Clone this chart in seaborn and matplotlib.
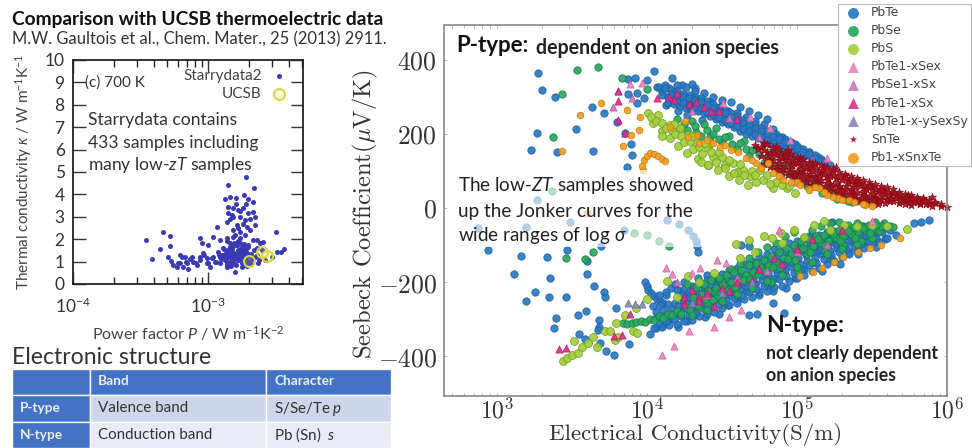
import matplotlib
matplotlib.use('Agg')
import numpy as np
import pandas as pd
import matplotlib.pyplot as plt
from matplotlib.patches import Rectangle
import seaborn as sns

# --- left panel, log10(power factor) and thermal conductivity
starry_p = [-3.457,-3.412,-3.356,-3.331,-3.281,-3.279,-3.294,-3.277,-3.257,-3.232,-3.207,-3.207,-3.17,-3.188,-3.158,-3.146,-3.121,-3.109,-3.084,-3.059,
            -3.059,-3.047,-3.035,-3.01,-2.998,-3.01,-2.985,-2.96,-2.936,-2.96,-2.948,-2.911,-2.923,-2.899,-2.886,-2.874,-2.862,-2.837,-2.825,-2.8,
            -2.793,-2.812,-2.775,-2.763,-2.751,-2.726,-2.701,-2.664,-2.64,-2.652,-2.615,-2.59,-2.496,-2.491,-2.437,-2.459,-2.528,-2.578,
            -2.721,-2.854,-2.659,-2.736,-2.701,-2.669,-2.874,-2.837,-2.793,-2.854,-2.812,-2.775,-2.738,-2.701,-2.664,-2.652,-2.852,-2.812,-2.763,-2.726,
            -2.862,-2.788,-2.652,-2.714,-2.812,-2.763,-2.689,-2.726,-2.812,-2.64,-2.862,-2.911,-2.837,-2.788,
            -2.88,-2.87,-2.85,-2.84,-2.83,-2.82,-2.81,-2.80,-2.79,-2.78,-2.77,-2.76,-2.75,-2.74,-2.73,-2.72,-2.86,-2.84,-2.82,-2.80,-2.78,-2.76,-2.74,-2.72,-2.70,
            -2.68,-2.66,-2.64,-2.62,-2.60,-2.90,-2.92,-2.94,-2.97,-3.0,-3.03,-3.06,-3.09,-3.13,-3.16,-3.19,-3.22,-2.86,-2.83,-2.79,-2.75,-2.71,-2.68,-2.63,
            -2.89,-2.87,-2.85,-2.83,-2.81,-2.79,-2.77,-2.75,-2.73,-2.71,-2.69,-2.84,-2.80,-2.76,-2.72,-2.88,-2.82,-2.78,-2.74,-2.91,-2.86,-2.80,-2.74,-2.70,-2.67,
            -2.82,-2.76,-2.78,-2.74,-2.72,-2.80,-2.70,-2.77,-2.75,-2.68,-2.84,-2.73,-2.79,-2.81,-2.69,-2.76]
starry_k = [1.96,1.12,1.58,2.31,2.14,1.70,1.19,1.04,0.85,0.77,0.92,1.29,1.22,0.77,0.92,0.67,1.22,1.0,0.85,1.07,
            2.04,1.85,1.37,1.15,1.74,0.92,0.77,2.11,2.56,1.22,1.0,0.92,1.44,1.29,1.59,1.07,0.85,1.37,1.67,0.55,
            1.22,1.0,1.52,1.82,0.92,1.29,1.67,1.96,1.59,1.22,1.82,1.89,2.34,1.44,1.55,1.44,1.22,1.07,
            4.79,4.4,4.27,3.97,3.79,3.65,3.79,3.9,3.82,3.45,3.38,3.3,3.38,3.15,3.23,3.0,3.15,3.0,3.0,2.86,
            2.78,2.63,2.63,2.56,2.41,2.34,2.41,2.19,2.11,1.96,2.04,1.96,1.82,1.74,
            1.3,1.1,1.5,1.0,1.25,1.6,1.4,1.15,1.75,1.05,1.35,1.55,1.2,1.45,0.95,1.7,1.9,1.2,1.55,1.3,1.9,1.1,1.45,1.15,1.3,
            1.05,1.5,1.3,1.05,1.5,1.1,1.3,1.0,1.15,0.95,1.3,1.2,0.95,1.1,1.0,1.2,0.95,0.75,0.8,0.85,0.75,0.8,0.9,0.95,
            1.15,1.4,1.25,1.45,1.15,1.35,1.25,1.65,1.1,1.4,1.25,1.65,1.35,1.2,1.55,1.55,1.05,1.05,1.05,1.2,0.95,0.9,0.85,1.0,1.15,
            3.1,3.25,2.5,2.7,3.55,2.2,1.75,1.45,1.6,1.35,2.9,1.8,3.55,1.85,2.9,2.05]
ucsb_p = [-2.694, -2.602, -2.565]
ucsb_k = [1.03, 1.41, 1.26]

# --- right panel, log10(conductivity) and Seebeck
pbte_x = [3.276,3.302,3.389,3.267,3.224,3.402,3.64,3.529,3.636,3.713,4.044,3.876,3.918,4.002,4.169,4.231,4.302,4.32,3.876,3.931,3.931,3.982,3.802,3.853,3.896,3.898,3.867,4.067,4.124,4.264,
          4.08,4.10,4.12,4.14,4.15,4.17,4.18,4.20,4.22,4.24,4.26,4.28,4.30,4.32,4.34,4.36,4.38,4.40,4.42,4.44,
          4.46,4.48,4.50,4.52,4.54,4.56,4.58,4.60,4.62,4.64,4.66,4.68,4.70,4.72,4.74,4.76,4.78,4.80,4.82,4.84,
          4.86,4.88,4.90,4.93,4.96,4.99,5.02,5.05,5.08,5.11,5.14,5.18,5.22,4.21,4.29,4.37,4.45,4.53,4.61,4.69,
          3.267,3.487,4.131,4.211,2.876,3.193,2.938,3.464,3.691,3.847,4.271,4.309,4.327,4.336,
          4.342,3.16,3.336,3.116,3.351,3.6,3.602,3.649,3.716,3.72,3.251,3.191,3.344,3.458,3.793,3.393,3.38,3.538,3.591,3.678,3.678,3.676,3.544,3.587,3.687,3.724,3.78,3.882,
          5.88,5.825,5.78,4.991,4.84,4.914,4.736,4.68,4.625,4.68,5.236,
          3.99,4.00,4.01,4.03,4.05,4.07,4.09,4.11,4.13,4.02,4.06,4.10,
          4.16,4.19,4.22,4.25,4.28,4.31,4.34,4.37,4.40,4.15,4.18,4.21,
          4.24,4.27,4.30,4.33,4.36,4.39,4.42,4.45,4.48,4.51,4.54,4.57,
          4.60,4.63,4.66,4.69,4.72,4.75,4.78,4.81,4.84,4.87,4.90,4.93,
          4.96,4.99,5.02,5.05,5.08,5.11,5.14,5.17,5.20,5.23,5.26,5.29,
          5.32,5.35,5.38,5.41,5.44,5.47,5.50,5.53,5.56,5.59,5.62,5.66,
          4.26,4.32,4.38,4.44,4.50,4.56,4.62,4.68,4.74,4.80,4.86,4.92]
pbte_y = [364,318,299,203,156,151,154,213,272,255,368,348,350,345,350,332,333,323,308,310,282,296,231,201,173,143,110,327,277,251,
          325,312,330,300,322,290,312,332,285,305,325,270,300,315,265,292,310,255,285,300,
          245,272,292,235,262,285,228,255,272,215,245,262,205,235,250,195,225,240,185,212,
          198,172,190,180,150,172,160,140,152,120,138,124,116,262,280,238,252,240,235,215,
          21,-37,-32,-43,-53,-51,-113,-113,-102,-59,-59,-75,-89,-102,
          -120,-129,-132,-177,-190,-177,-143,-210,-228,-241,-228,-251,-239,-240,-269,-298,-325,-288,-279,-303,-320,-329,-341,-354,-365,-385,-397,-366,
          -33,-39,-41,-239,-257,-282,-286,-290,-100,-102,-37,
          -200,-210,-222,-230,-238,-245,-252,-255,-235,-340,-325,-318,
          -215,-205,-225,-200,-240,-215,-190,-205,-180,-300,-285,-320,
          -265,-305,-255,-285,-245,-295,-265,-230,-285,-215,-262,-195,
          -245,-180,-225,-155,-205,-235,-140,-185,-225,-120,-170,-215,
          -130,-190,-100,-165,-75,-145,-115,-170,-70,-135,-95,-150,
          -62,-120,-80,-125,-50,-100,-70,-105,-55,-85,-48,-72,
          -235,-265,-225,-200,-250,-235,-205,-190,-170,-210,-190,-150]
# denser runs through the two PbTe bands
pbte_band_x = [4.05,4.10,4.15,4.20,4.25,4.30,4.35,4.40,4.45,4.50,4.55,4.60,4.65,4.70,4.75,4.80,4.85,4.90,4.95,5.00,5.05,5.10,5.15,5.20,5.25,5.30,5.35,5.40,5.45,5.50,5.55,5.60,
               4.07,4.12,4.17,4.22,4.27,4.32,4.37,4.42,4.47,4.52,4.57,4.62,4.67,4.72,4.77,4.82,4.87,4.92,4.97,5.02,5.07,5.12,5.17,5.22,5.27,5.32,5.37,5.42,5.47,5.52,5.57,5.62,
               4.04,4.09,4.14,4.19,4.24,4.29,4.34,4.39,4.44,4.49,4.54,4.59,4.64,4.69,4.74,4.79,4.84,4.89,4.94,4.99,5.04,5.09,5.14,5.19,5.24,5.29,5.34,5.39,5.44,5.49,5.54,5.59,
               4.20,4.25,4.30,4.35,4.40,4.45,4.50,4.55,4.60,4.65,4.70,4.75,4.80,4.85,4.90,4.95,5.00,5.05,5.10,5.15,5.20,5.25,5.30,5.35,5.40,5.50,
               4.08,4.13,4.18,4.23,4.28,4.33,4.38,4.43,4.48,4.53,4.58,4.63,4.68,4.73,4.78,4.83,4.88,4.93,4.98,5.03,5.08,5.13,5.18,5.23,5.28,5.33,5.38,5.43,5.48,5.53,
               4.06,4.11,4.16,4.21,4.26,4.31,4.36,4.41,4.46,4.51,4.56,4.61,4.66,4.71,4.76,4.81,4.86,4.91,4.96,5.01,5.06,5.11,5.16,5.21,5.26,5.31,5.36,5.41,5.46,5.51,
               4.08,4.13,4.23,4.28,4.33,4.38,4.43,4.48,4.53,4.58,4.63,4.68,4.73,4.78,4.83,4.88,4.93,4.98,5.03,5.08,5.13,5.18,5.23,5.28,5.33,5.38,5.43,5.48,5.53,5.58,
               4.10,4.14,4.18,4.22,4.26,4.30,4.34,4.38,4.42,4.46,4.50,4.54,4.58,4.62,4.66,4.70,4.74,4.78,4.82,4.86,4.90,4.94,4.98,5.02,5.06,5.10,5.14,
               4.12,4.16,4.20,4.24,4.28,4.32,4.36,4.40,4.44,4.48,4.52,4.56,4.60,4.64,4.68,4.72,4.76,4.80,4.84,4.88,4.92,4.96,5.00,5.04,5.08,5.12,5.16,
               4.14,4.18,4.22,4.26,4.30,4.34,4.38,4.42,4.46,4.50,4.54,4.58,4.62,4.66,4.70,4.74,4.78,4.82,4.86,4.90,4.94,4.98,5.02,
               4.16,4.20,4.24,4.28,4.32,4.36,4.40,4.44,4.48,4.52,4.56,4.60,4.64,4.68,4.72,4.76,4.80,4.84,4.88,4.92,4.96,5.00,5.04,5.08,5.12,5.16,
               4.20,4.24,4.28,4.32,4.36,4.40,4.44,4.48,4.52,4.56,4.60,4.64,4.68,4.72,4.76,4.80,4.84,4.88,4.92,4.96]
pbte_band_y = [-325,-322,-316,-312,-305,-302,-292,-285,-280,-270,-262,-255,-245,-240,-228,-225,-212,-210,-198,-188,-180,-170,-162,-150,-142,-132,-125,-115,-108,-98,-92,-82,
               -295,-290,-285,-278,-272,-265,-258,-252,-245,-236,-228,-222,-212,-205,-195,-188,-175,-168,-158,-150,-142,-132,-125,-115,-108,-100,-92,-86,-78,-72,-66,-60,
               -265,-262,-258,-255,-248,-240,-232,-228,-220,-210,-205,-198,-188,-180,-170,-162,-150,-142,-130,-122,-115,-108,-100,-92,-88,-80,-75,-70,-66,-60,-55,-52,
               -222,-218,-210,-200,-195,-185,-178,-168,-162,-150,-142,-132,-125,-112,-102,-95,-90,-82,-76,-72,-66,-62,-58,-54,-52,-48,
               -310,-305,-300,-292,-288,-280,-272,-268,-258,-250,-242,-234,-226,-218,-210,-202,-192,-184,-175,-165,-155,-148,-138,-128,-120,-112,-104,-96,-88,-82,
               -280,-275,-272,-265,-260,-252,-245,-238,-232,-224,-216,-208,-200,-192,-182,-175,-165,-155,-145,-135,-128,-120,-112,-104,-98,-90,-84,-78,-72,-66,
               -235,-228,-235,-228,-220,-212,-205,-195,-190,-182,-175,-165,-155,-148,-138,-128,-118,-108,-100,-92,-85,-80,-72,-68,-62,-58,-55,-52,-48,-46,
               305,300,298,292,288,285,280,272,265,258,250,242,235,225,218,210,205,195,188,182,172,165,158,150,142,135,128,
               322,318,315,308,305,300,295,288,280,270,265,255,248,238,230,225,215,208,200,192,186,178,168,160,150,142,132,
               282,280,275,270,268,262,255,248,240,232,225,218,208,200,195,188,178,172,165,155,148,140,132,
               308,303,298,295,290,286,278,270,262,255,246,238,230,222,215,208,200,192,185,178,170,162,152,145,135,126,
               285,282,278,272,268,258,252,245,238,230,222,212,208,200,192,182,175,168,158,152]

pbse_x = [3.536,3.671,3.431,3.376,3.831,3.998,3.367,3.916,4.002,4.08,4.149,3.46,3.587,3.638,
          4.20,4.25,4.30,4.33,4.38,4.42,4.46,4.50,4.55,4.60,4.65,4.68,4.73,4.78,4.82,4.88,4.92,4.98,5.02,5.07,5.12,5.17,5.22,5.27,5.32,5.37,5.42,5.47,5.50,5.34,
          3.84,3.87,3.90,3.93,3.96,3.99,4.02,4.05,4.08,4.11,4.14,4.17,
          4.20,4.23,4.26,4.29,4.32,4.35,4.38,4.41,4.44,4.47,4.50,4.53,
          4.56,4.59,4.62,4.65,4.68,4.71,4.74,4.77,4.80,4.83,4.86,4.89,
          4.92,4.95,4.98,5.01,5.04,5.07,5.10,5.13,5.16,5.19,5.22,5.25,
          5.28,5.31,5.34,5.37,5.40,5.43,5.46,5.49,5.52,5.55,5.58,5.64]
pbse_y = [372,379,306,190,350,320,46,-68,-73,-88,-102,-136,-137,-120,
          240,225,235,205,225,190,215,178,195,160,180,140,160,120,135,100,115,80,95,60,75,40,50,25,32,15,22,14,16,18,
          -310,-312,-310,-308,-305,-308,-300,-302,-292,-296,-285,-290,
          -278,-285,-268,-275,-250,-268,-232,-255,-225,-240,-200,-228,
          -165,-215,-150,-195,-135,-180,-118,-165,-105,-200,-95,-150,
          -75,-130,-65,-170,-85,-125,-60,-95,-50,-115,-40,-80,
          -38,-100,-45,-70,-40,-90,-52,-75,-38,-62,-42,-52]
pbse_band_x = [4.31,4.36,4.41,4.46,4.51,4.56,4.61,4.66,4.71,4.76,4.81,4.86,4.91,4.96,5.01,5.06,5.11,5.16,5.21,5.26,5.31,5.36,5.41,5.46,5.51,5.56,
               4.27,4.33,4.38,4.43,4.48,4.53,4.58,4.63,4.68,4.73,4.78,4.83,4.88,4.93,4.98,5.03,5.08,5.13,5.18,5.23,5.28,5.33,5.38,5.43,5.48,5.53,
               4.3,4.4,4.5,4.6,4.7,4.8,4.9,5.0,5.1,5.2,5.3,5.4,5.5,
               4.34,4.44,4.54,4.64,4.74,4.84,4.94,5.04,5.14,5.24,5.34,5.44,4.39,4.49,4.59,4.69,4.79,4.89,4.99,5.09,5.19,5.29,5.39,5.49,
               4.22,4.27,4.32,4.36,4.40,4.44,4.48,4.52,4.57,4.62,4.66,4.70,4.75,4.80,4.85,4.90,4.95,5.00,5.05,5.10,5.15,5.20,5.25,5.30,5.35,5.40,5.44]
pbse_band_y = [-240,-232,-225,-215,-208,-200,-192,-182,-172,-162,-155,-145,-135,-125,-118,-110,-102,-95,-88,-82,-76,-70,-64,-60,-55,-50,
               -205,-212,-205,-195,-190,-180,-172,-168,-155,-148,-140,-130,-120,-108,-100,-90,-84,-76,-72,-64,-60,-55,-52,-48,-46,-45,
               -290,-275,-250,-232,-215,-198,-180,-160,-145,-125,-112,-98,-80,
               -262,-248,-222,-195,-178,-158,-138,-108,-85,-70,-62,-55,-245,-228,-212,-192,-170,-160,-140,-118,-100,-90,-80,-68,
               215,210,220,195,210,200,185,190,172,175,158,155,145,135,112,108,95,90,68,65,58,45,38,28,25,18,15]

pbs_x = [4.009,4.076,4.042,4.098,4.153,4.153,4.22,4.209,4.276,4.269,4.331,4.342,4.409,4.409,4.42,4.409,4.5,4.475,4.575,4.549,4.642,4.613,4.686,4.675,4.775,4.842,4.931,4.986,4.753,4.6,4.52,4.442,
         3.438,3.464,3.498,3.542,3.564,3.516,3.609,3.642,3.664,3.72,3.753,3.787,3.809,3.791,3.853,3.909,3.931,4.002,4.131,4.276,3.924,
         4.591,4.68,4.78,4.836,4.891,4.98,5.113,5.18,5.313,5.5,5.736,4.2,4.35,4.45,4.62,4.72,4.9,5.05,5.22,5.4,5.6,
         4.03,4.06,4.10,4.13,4.17,4.19,4.23,4.25,4.29,4.31,4.35,4.37,4.39,4.43,4.46,4.48,4.52,4.55,4.58,4.62,4.65,4.70,4.73,4.80,4.86,4.90,4.95,4.72,4.82,4.30,4.18,4.1,4.36]
pbs_y = [255,251,228,206,224,188,215,167,197,149,174,131,161,116,174,116,138,102,121,86,103,74,85,62,76,53,53,40,103,98,116,138,
         -414,-405,-396,-392,-374,-358,-365,-347,-374,-331,-333,-356,-347,-311,-288,-333,-338,-245,-197,-183,-270,
         -97,-86,-75,-82,-68,-59,-46,-35,-46,-46,-57,-240,-200,-175,-135,-120,-95,-78,-60,-50,-48,
         245,235,230,215,210,198,195,178,180,160,165,145,175,152,125,150,108,130,95,118,88,100,70,88,70,62,58,88,65,195,225,195,125]

tesex_x = [3.804,3.887,3.964,4.509,4.686,4.82,4.953,5.198,4.127,4.164,4.353,4.302,4.282,4.18,4.1,4.447,4.547,4.625,4.469,4.525,4.88,5.5]
tesex_y = [314,334,336,282,246,215,183,134,-161,-179,-161,-176,-331,-372,-396,-320,-293,-275,-140,-149,-59,-35]
ses_x = [3.776,3.898,4.3,4.55,4.75,4.95,5.1,4.2,4.4,4.6,4.8,5.0,5.2]
ses_y = [271,296,262,242,190,160,130,-200,-235,-190,-170,-120,-100]
tes_x = [3.804,3.804,3.809,3.853,4.064,4.18,4.28,4.38,4.48,4.6,3.416,3.46,3.887,3.831,3.78,4.25,4.35,4.45,4.55,4.7,4.9,
         4.4,4.5,4.35,4.6,4.75,4.85,5.0,5.1,5.3,4.25,4.3,4.15,4.2,4.33,4.43]
tes_y = [314,287,237,201,297,292,280,272,260,240,-380,-378,-286,-342,-345,-260,-240,-265,-225,-195,-150,
         -230,-215,-250,-200,-165,-135,-110,-85,-60,-240,-220,300,310,285,262]
mixed_x = [3.876,3.92,3.964,4.9,5.0,5.1,5.2,5.3,5.4,4.3,4.5,4.7]
mixed_y = [-257,-258,-260,90,70,60,40,35,20,-255,-230,-200]

snte_x = [4.72,4.76,4.80,4.84,4.88,4.92,4.96,5.00,5.04,5.08,5.12,5.16,
          4.78,4.82,4.86,4.90,4.94,4.98,5.02,5.06,5.10,5.14,5.18,5.22,
          5.20,5.24,5.28,5.32,5.36,5.40,5.44,5.48,5.52,5.56,5.60,5.64,
          5.26,5.30,5.34,5.38,5.42,5.46,5.50,5.54,5.58,5.62,5.66,5.70,
          5.68,5.72,5.76,5.80,5.84,5.88,5.92,5.96,6.00,5.74,5.82,5.90]
snte_y = [170,165,150,155,130,140,118,122,100,105,85,98,
          175,130,165,105,155,90,135,75,120,70,110,65,
          82,100,60,88,50,75,40,62,30,52,25,40,
          110,48,72,35,65,22,55,20,45,18,35,15,
          30,25,22,15,28,10,12,6,2,35,10,30]
snte_band_x = [4.80,4.84,4.88,4.92,4.96,5.00,5.04,5.08,5.12,5.16,5.20,5.24,5.28,5.32,5.36,5.40,5.44,5.48,5.52,5.56,5.60,5.64,5.68,5.72,5.76,5.80,5.84,5.88,5.92,5.96,
               4.74,4.78,4.82,4.86,4.90,4.94,4.98,5.02,5.06,5.10,5.14,5.18,5.22,5.26,5.30,5.34,5.38,5.42,5.46,5.50,5.54,5.58,5.62,5.66,5.70,5.74,5.78,5.82,5.86,5.90,
               4.76,4.80,4.84,4.88,4.92,4.96,5.00,5.04,5.08,5.12,5.16,5.20,5.24,5.28,5.32,5.36,5.40,5.44,5.48,5.52,5.56,5.60,5.64,5.68,5.72,5.76,
               4.78,4.82,4.86,4.90,4.94,4.98,5.02,5.06,5.10,5.14,5.18,5.22,5.26,5.30,5.34,5.38,5.42,5.46,5.50,5.54,
               4.92,4.97,5.03,5.09,5.15,5.21,5.27,5.33,5.39,5.45,5.51,5.57,5.63,5.69,5.75,5.81,
               4.85,4.89,4.93,4.97,5.01,5.05,5.09,5.13,5.17,5.21,5.25,5.29,5.33,5.37,5.41,5.45,5.49,5.53,5.57,5.61,5.65,5.69,5.73,5.77,5.81,5.85,
               4.83,4.87,4.91,4.95,4.99,5.03,5.07,5.11,5.15,5.19,5.23,5.27,5.31,5.35,5.39,5.43,5.47,5.51,5.55,5.59]
snte_band_y = [172,165,158,152,145,138,132,125,120,115,110,104,98,92,86,80,75,70,64,60,55,50,44,38,34,30,24,20,16,10,
               158,155,148,142,135,128,122,115,110,102,98,92,86,80,74,68,64,58,52,48,42,38,34,28,24,20,16,14,10,6,
               140,135,128,120,112,105,100,92,86,80,75,68,62,56,50,46,42,36,32,26,24,20,18,12,10,8,
               118,110,105,96,90,82,78,70,62,58,52,46,42,36,30,26,22,16,14,10,
               130,115,105,92,85,78,70,60,55,46,38,32,26,20,14,18,
               148,145,140,132,125,120,115,108,102,96,90,85,80,74,68,62,58,52,48,44,40,34,30,26,22,18,
               120,112,104,98,92,85,80,72,66,60,55,48,44,38,34,28,24,20,16,12]

pbsnte_x = [3.436,3.691,3.556,3.869,3.953,3.944,3.838,3.896,3.971,3.969,3.98,3.998,4.02,4.049,4.076,4.098,4.122,3.598,
            4.40,4.49,4.61,4.73,4.81,4.91,5.15,5.275,5.453,4.253,4.276,4.331,4.349,4.153,5.0,5.08,5.2,5.35,
            5.02,5.11,5.247,5.31,5.41,5.49,5.56,5.69,5.17,
            4.44,4.52,4.56,4.66,4.70,4.76,4.84,4.88,4.96,5.02,5.08,5.12,5.18,5.24,5.30,5.38,5.44,5.5]
pbsnte_y = [154,283,250,264,244,211,166,197,103,114,130,140,147,146,139,131,126,-14,
            183,165,152,120,120,76,53,26,8,233,192,197,175,219,70,50,35,20,
            -183,-172,-147,-131,-118,-109,-100,-82,-163,
            175,170,155,135,128,108,95,85,70,62,48,55,42,30,22,15,10,6]

series = [('PbTe', pbte_x + pbte_band_x, pbte_y + pbte_band_y, 'o', '#2a78c4', '#1c5f9c', 28),
          ('PbSe', pbse_x + pbse_band_x, pbse_y + pbse_band_y, 'o', '#27a860', '#187a42', 28),
          ('PbS', pbs_x, pbs_y, 'o', '#a4cf3c', '#6f9e1f', 32),
          ('PbTe1-xSex', tesex_x, tesex_y, '^', '#ea85bd', '#d060a0', 26),
          ('PbSe1-xSx', ses_x, ses_y, '^', '#cc79b8', '#a85a98', 26),
          ('PbTe1-xSx', tes_x, tes_y, '^', '#e0308c', '#b81a70', 26),
          ('PbTe1-x-ySexSy', mixed_x, mixed_y, '^', '#8888c0', '#6a6aa8', 26),
          ('SnTe', snte_x + snte_band_x, snte_y + snte_band_y, '*', '#b01020', '#8a0a18', 34),
          ('Pb1-xSnxTe', pbsnte_x, pbsnte_y, 'o', '#f2a020', '#c87c10', 22)]

sns.set_theme(style='white')
plt.rcParams['font.family'] = ['Lato', 'DejaVu Sans']
plt.rcParams['mathtext.fontset'] = 'custom'
plt.rcParams['mathtext.rm'] = 'Lato'
plt.rcParams['mathtext.it'] = 'Lato:italic'
plt.rcParams['axes.unicode_minus'] = False

fig = plt.figure(figsize=(9.72, 4.48), dpi=100)
W, H = 972.0, 448.0


def px_axes(x0, y0, x1, y1):
    return fig.add_axes([x0 / W, 1 - y1 / H, (x1 - x0) / W, (y1 - y0) / H])


# Left panel
ax1 = px_axes(73, 60, 303, 284)
df_s = pd.DataFrame({'p': np.power(10.0, starry_p), 'k': starry_k})
df_u = pd.DataFrame({'p': np.power(10.0, ucsb_p), 'k': ucsb_k})
sns.scatterplot(data=df_s, x='p', y='k', color='#3a3ab4', s=13, linewidth=0, ax=ax1, label='Starrydata2')
sns.scatterplot(data=df_u, x='p', y='k', facecolor='#d8d84030', edgecolor='#d8d840', s=62, linewidth=1.5, ax=ax1, label='UCSB')
ax1.set_xscale('log')
ax1.set_xlim(1e-4, 10 ** -2.296)
ax1.set_ylim(0, 10)
ax1.set_yticks(range(0, 11))
ax1.set_xticks([1e-4, 1e-3])
ax1.set_xticklabels(['$10^{-4}$', '$10^{-3}$'])
ax1.tick_params(axis='both', which='major', direction='in', length=9, width=1, top=True, right=True,
                bottom=True, left=True, labelsize=12.5, colors='#333333', pad=6)
ax1.tick_params(axis='x', which='major', pad=9)
ax1.tick_params(axis='x', which='minor', direction='in', length=5, width=1, top=True, bottom=True)
for sp in ax1.spines.values():
    sp.set_color('#222222')
    sp.set_linewidth(1.3)
ax1.set_xlabel('Power factor $P$ / W m$^{-1}$K$^{-2}$', fontsize=11.5, color='#444444', labelpad=6)
ax1.set_ylabel('Thermal conductivity $\\kappa$ / W m$^{-1}$K$^{-1}$', fontsize=11, color='#444444', labelpad=4)
ax1.yaxis.set_label_coords(-0.17, 0.5)
ax1.legend(loc='upper right', frameon=False, markerfirst=False, fontsize=11, labelspacing=0.25,
           handletextpad=0.1, borderaxespad=0.2, labelcolor='#444444')

# Right panel
ax2 = px_axes(444, 25, 947, 396)
for name, xs, ys, mark, col, edge, size in series:
    sns.scatterplot(x=np.power(10.0, xs), y=ys, marker=mark, color=col, edgecolor=edge, s=size,
                    linewidth=0.6, alpha=0.92, ax=ax2, label=name, clip_on=False)
ax2.set_xscale('log')
ax2.set_xlim(10 ** 2.647, 1e6)
ax2.set_ylim(-507, 493)
ax2.set_xticks([1e3, 1e4, 1e5, 1e6])
ax2.set_xticklabels(['$10^{3}$', '$10^{4}$', '$10^{5}$', '$10^{6}$'], math_fontfamily='cm', fontsize=17)
ax2.set_yticks([-400, -200, 0, 200, 400])
ax2.set_yticklabels(['$-400$', '$-200$', '$0$', '$200$', '$400$'], math_fontfamily='cm', fontsize=18.5)
ax2.tick_params(axis='both', which='both', direction='in', length=2, width=0.6, color='#aaaaaa',
                labelcolor='#333333', pad=5, bottom=True, left=True, top=True, right=True)
ax2.tick_params(axis='x', which='major', pad=1)
for sp in ax2.spines.values():
    sp.set_color('#888888')
    sp.set_linewidth(1.2)
ax2.set_xlabel('Electrical Conductivity(S/m)', family='cmr10', fontsize=16.5, color='#333333')
ax2.set_ylabel('Seebeck Coefficient($\\mu$V/K)', family='cmr10', math_fontfamily='cm', fontsize=17.7,
               color='#333333')
ax2.xaxis.set_label_coords(0.5, -0.072, transform=ax2.transAxes)
ax2.yaxis.set_label_coords(-0.128, 0.49, transform=ax2.transAxes)
leg = ax2.legend(loc='upper left', bbox_to_anchor=(838 / W, 1 - 4 / H), bbox_transform=fig.transFigure,
                 prop={'family': 'DejaVu Sans', 'size': 8.9}, frameon=True, fancybox=False, framealpha=1,
                 edgecolor='#bbbbbb', labelspacing=0.41, borderpad=0.18, handletextpad=0.5,
                 borderaxespad=0, labelcolor='#444444')
leg.get_frame().set_linewidth(0.8)
for handle, item in zip(leg.legend_handles, series):
    handle.set_sizes([30 if item[3] == '*' else 62])
    handle.set_linewidth(0)

# Overlay in pixel coordinates for the slide text and the table
ov = fig.add_axes([0, 0, 1, 1], zorder=5)
ov.set_xlim(0, W)
ov.set_ylim(H, 0)
ov.axis('off')
ov.patch.set_alpha(0)

ov.add_patch(Rectangle((447, 170), 258, 77, fc='white', ec='none', alpha=0.62))

ov.text(12, 20, 'Comparison with UCSB thermoelectric data', fontsize=13.8, fontweight='bold', color='#111111', va='center')
ov.text(12, 39, 'M.W. Gaultois et al., Chem. Mater., 25 (2013) 2911.', fontsize=11.9, color='#333333', va='center')
ov.text(85, 83, '(c) 700 K', fontsize=11, color='#333333', va='center')
ov.text(88, 120, 'Starrydata contains', fontsize=12.6, color='#333333', va='center')
ov.text(88, 143, '433 samples including', fontsize=12.6, color='#333333', va='center')
ov.text(88, 165, 'many low-$zT$ samples', fontsize=12.6, color='#333333', va='center')

ov.text(456, 46, 'P-type:', fontsize=16, fontweight='bold', color='#111111', va='center')
ov.text(536, 48, 'dependent on anion species', fontsize=14.1, fontweight='bold', color='#222222', va='center')
ov.text(458, 186, 'The low-$ZT$ samples showed', fontsize=13.6, color='#222222', va='center')
ov.text(458, 211, 'up the Jonker curves for the', fontsize=13.6, color='#222222', va='center')
ov.text(458, 236, 'wide ranges of log $\\sigma$', fontsize=13.6, color='#222222', va='center')
ov.text(766, 326, 'N-type:', fontsize=16.5, fontweight='bold', color='#111111', va='center')
ov.text(766, 353, 'not clearly dependent', fontsize=12.7, fontweight='bold', color='#222222', va='center')
ov.text(766, 376, 'on anion species', fontsize=12.7, fontweight='bold', color='#222222', va='center')

ov.text(12, 357, 'Electronic structure', fontsize=16.6, color='#333333', va='center')

# Table
col_edges = [12, 90, 266, 391]
row_edges = [369, 395, 422, 448]
row_fill = ['#4472c4', '#cfd5ea', '#e9ebf5']
head_fill = '#4472c4'
table_text = [['', 'Band', 'Character'],
              ['P-type', 'Valence band', 'S/Se/Te $p$'],
              ['N-type', 'Conduction band', 'Pb (Sn)  $s$']]
for r in range(3):
    for c in range(3):
        fill = head_fill if (c == 0 or r == 0) else row_fill[r]
        ov.add_patch(Rectangle((col_edges[c], row_edges[r]), col_edges[c + 1] - col_edges[c],
                               row_edges[r + 1] - row_edges[r], fc=fill, ec='white', lw=1))
        is_head = r == 0 or c == 0
        ov.text(col_edges[c] + 8, (row_edges[r] + row_edges[r + 1]) / 2 + (0 if r else -1), table_text[r][c],
                fontsize=9.8 if is_head else 10.9, fontweight='bold' if is_head else 'normal',
                color='#e8eefa' if is_head else '#333333', va='center')

fig.savefig('out.png', dpi=100)
